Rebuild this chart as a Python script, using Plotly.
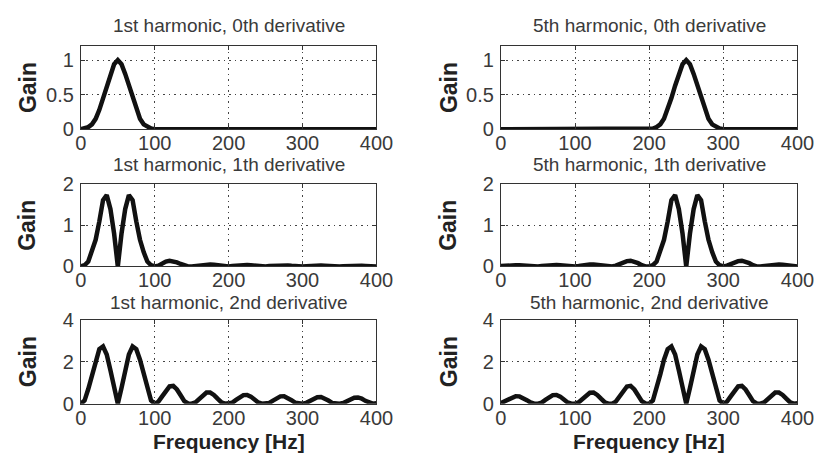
import plotly.graph_objects as go

freq = list(range(0, 405, 5))

h1_d0 = [0, 0.01, 0.03, 0.07, 0.15, 0.28, 0.45, 0.63, 0.8, 0.94, 1.0,
         0.94, 0.8, 0.63, 0.45, 0.28, 0.15, 0.07, 0.03, 0.01, 0.0,
         0, 0.005, 0.01, 0.012, 0.012, 0.01, 0.005, 0, 0, 0,
         0, 0, 0.003, 0.004, 0.004, 0.003, 0, 0, 0, 0,
         0, 0, 0.002, 0.003, 0.003, 0.002, 0, 0, 0, 0,
         0, 0, 0.002, 0.002, 0.002, 0.002, 0, 0, 0, 0,
         0, 0, 0.002, 0.002, 0.002, 0.002, 0, 0, 0, 0,
         0, 0, 0.001, 0.002, 0.002, 0.001, 0, 0, 0, 0]

h5_d0 = [0, 0, 0, 0, 0, 0, 0, 0, 0, 0, 0,
         0, 0, 0, 0, 0, 0, 0, 0, 0, 0,
         0, 0, 0, 0.003, 0.004, 0.004, 0.003, 0, 0, 0,
         0, 0, 0.005, 0.01, 0.012, 0.012, 0.01, 0.005, 0, 0,
         0.01, 0.03, 0.07, 0.15, 0.28, 0.45, 0.63, 0.8, 0.94, 1.0,
         0.94, 0.8, 0.63, 0.45, 0.28, 0.15, 0.07, 0.03, 0.01, 0.0,
         0, 0.005, 0.01, 0.012, 0.012, 0.01, 0.005, 0, 0, 0,
         0, 0, 0.003, 0.004, 0.004, 0.003, 0, 0, 0, 0]

h1_d1 = [0, 0.03, 0.12, 0.35, 0.65, 1.1, 1.62, 1.74, 1.4, 0.8, 0.0,
         0.8, 1.4, 1.74, 1.62, 1.1, 0.65, 0.35, 0.12, 0.03, 0.0,
         0.02, 0.08, 0.12, 0.14, 0.13, 0.1, 0.06, 0.02, 0.0, 0.0,
         0.01, 0.03, 0.04, 0.05, 0.05, 0.04, 0.03, 0.01, 0.0, 0.0,
         0.01, 0.02, 0.03, 0.035, 0.035, 0.03, 0.02, 0.01, 0, 0,
         0.01, 0.015, 0.025, 0.03, 0.03, 0.025, 0.015, 0.005, 0, 0,
         0.005, 0.015, 0.02, 0.025, 0.025, 0.02, 0.01, 0.005, 0, 0,
         0.005, 0.01, 0.02, 0.02, 0.02, 0.015, 0.01, 0.005, 0, 0]

h5_d1 = [0.01, 0.02, 0.03, 0.03, 0.03, 0.03, 0.02, 0.01, 0.0, 0.0, 0.0,
         0.01, 0.02, 0.03, 0.035, 0.035, 0.03, 0.02, 0.01, 0.0, 0.0,
         0.01, 0.03, 0.04, 0.05, 0.05, 0.04, 0.03, 0.01, 0.0, 0.0,
         0.02, 0.06, 0.1, 0.13, 0.14, 0.12, 0.08, 0.03, 0.0, 0.0,
         0.03, 0.12, 0.35, 0.65, 1.1, 1.62, 1.74, 1.4, 0.8, 0.0,
         0.8, 1.4, 1.74, 1.62, 1.1, 0.65, 0.35, 0.12, 0.03, 0.0,
         0.02, 0.06, 0.1, 0.13, 0.14, 0.12, 0.08, 0.03, 0.0, 0.0,
         0.01, 0.03, 0.04, 0.05, 0.05, 0.04, 0.03, 0.01, 0.0, 0.0]

h1_d2 = [0, 0.15, 0.7, 1.4, 2.1, 2.6, 2.73, 2.35, 1.6, 0.75, 0.0,
         0.75, 1.6, 2.35, 2.73, 2.6, 2.1, 1.4, 0.7, 0.15, 0.0,
         0.1, 0.35, 0.62, 0.83, 0.85, 0.68, 0.4, 0.12, 0.01, 0.0,
         0.06, 0.22, 0.4, 0.53, 0.53, 0.42, 0.24, 0.07, 0.0, 0.0,
         0.05, 0.18, 0.32, 0.41, 0.42, 0.34, 0.2, 0.06, 0.0, 0.0,
         0.04, 0.15, 0.27, 0.35, 0.36, 0.29, 0.17, 0.05, 0.0, 0.0,
         0.04, 0.13, 0.24, 0.31, 0.32, 0.26, 0.15, 0.04, 0.0, 0.0,
         0.03, 0.12, 0.22, 0.29, 0.3, 0.25, 0.14, 0.04, 0.0, 0.02]

h5_d2 = [0.03, 0.12, 0.24, 0.32, 0.36, 0.35, 0.28, 0.17, 0.06, 0.0, 0.0,
         0.05, 0.18, 0.32, 0.41, 0.42, 0.34, 0.2, 0.06, 0.0, 0.0,
         0.07, 0.24, 0.41, 0.52, 0.53, 0.42, 0.24, 0.07, 0.0, 0.0,
         0.1, 0.36, 0.62, 0.82, 0.85, 0.68, 0.4, 0.12, 0.01, 0.0,
         0.15, 0.7, 1.4, 2.1, 2.6, 2.73, 2.35, 1.6, 0.75, 0.0,
         0.75, 1.6, 2.35, 2.73, 2.6, 2.1, 1.4, 0.7, 0.15, 0.0,
         0.1, 0.35, 0.62, 0.83, 0.85, 0.68, 0.4, 0.12, 0.01, 0.0,
         0.06, 0.22, 0.4, 0.53, 0.53, 0.42, 0.24, 0.07, 0.0, 0.02]

titles = ["1st harmonic, 0th derivative", "5th harmonic, 0th derivative",
          "1st harmonic, 1th derivative", "5th harmonic, 1th derivative",
          "1st harmonic, 2nd derivative", "5th harmonic, 2nd derivative"]
series = [h1_d0, h5_d0, h1_d1, h5_d1, h1_d2, h5_d2]
y_ranges = [[0, 1.2], [0, 1.2], [0, 2], [0, 2], [0, 4], [0, 4]]
y_ticks = [[0, 0.5, 1], [0, 0.5, 1], [0, 1, 2], [0, 1, 2], [0, 2, 4], [0, 2, 4]]
y_ticktext = [["0", "0.5", "1"], ["0", "0.5", "1"], ["0", "1", "2"], ["0", "1", "2"],
              ["0", "2", "4"], ["0", "2", "4"]]
x_ticks = [0, 100, 200, 300, 400]
x_label = "Frequency [Hz]"
y_label = "Gain"

W, H = 830, 470
col_px = [(77, 381), (509, 814)]
row_px = [(37, 124), (182, 268), (324, 412)]
title_y_px = [15, 161, 306]

FONT = "Liberation Sans, Arial, sans-serif"
TXT = "#3a3a3a"

fig = go.Figure()
layout = dict(width=W, height=H, margin=dict(l=0, r=0, t=0, b=0),
              paper_bgcolor="white", plot_bgcolor="white", showlegend=False,
              font=dict(family=FONT, size=19, color=TXT))
annotations = []
for i in range(6):
    r, c = divmod(i, 2)
    xa = "xaxis" if i == 0 else f"xaxis{i+1}"
    ya = "yaxis" if i == 0 else f"yaxis{i+1}"
    xr = "x" if i == 0 else f"x{i+1}"
    yr = "y" if i == 0 else f"y{i+1}"
    x0, x1 = col_px[c]
    t0, t1 = row_px[r]
    layout[xa] = dict(domain=[x0 / W, x1 / W], anchor=yr, range=[0, 400],
                      tickvals=x_ticks, ticks="inside", ticklen=4, tickcolor="#333",
                      showline=True, mirror="ticks", linecolor="#333", linewidth=1,
                      showgrid=True, gridcolor="#444", griddash="1.5px,4px", gridwidth=1.2,
                      zeroline=False, tickfont=dict(size=20, color=TXT),
                      ticklabelstandoff=-4)
    layout[ya] = dict(domain=[1 - t1 / H, 1 - t0 / H], anchor=xr, range=y_ranges[i],
                      tickvals=y_ticks[i], ticktext=y_ticktext[i], ticks="inside",
                      ticklen=4, tickcolor="#333",
                      showline=True, mirror="ticks", linecolor="#333", linewidth=1,
                      showgrid=True, gridcolor="#444", griddash="1.5px,4px", gridwidth=1.2,
                      zeroline=False, tickfont=dict(size=20, color=TXT),
                      ticklabelstandoff=2)
    fig.add_trace(go.Scatter(x=freq, y=series[i], mode="lines", xaxis=xr, yaxis=yr,
                             line=dict(color="#111111", width=4.5),
                             cliponaxis=True))
    annotations.append(dict(text=titles[i], x=(x0 + x1) / 2 / W, y=1 - title_y_px[r] / H,
                            xref="paper", yref="paper", xanchor="center", yanchor="middle",
                            showarrow=False, font=dict(size=19, color=TXT)))
    annotations.append(dict(text="<b>" + y_label + "</b>", x=(22 if c == 0 else 455) / W,
                            y=1 - (t0 + t1) / 2 / H, xref="paper", yref="paper",
                            xanchor="center", yanchor="middle", textangle=-90,
                            showarrow=False, font=dict(size=23, color="#222")))
    if r == 2:
        annotations.append(dict(text="<b>" + x_label + "</b>", x=(x0 + x1) / 2 / W,
                                y=1 - 452 / H, xref="paper", yref="paper",
                                xanchor="center", yanchor="middle", showarrow=False,
                                font=dict(size=21, color="#222")))
layout["annotations"] = annotations
fig.update_layout(**layout)
fig.write_html("out.html")
